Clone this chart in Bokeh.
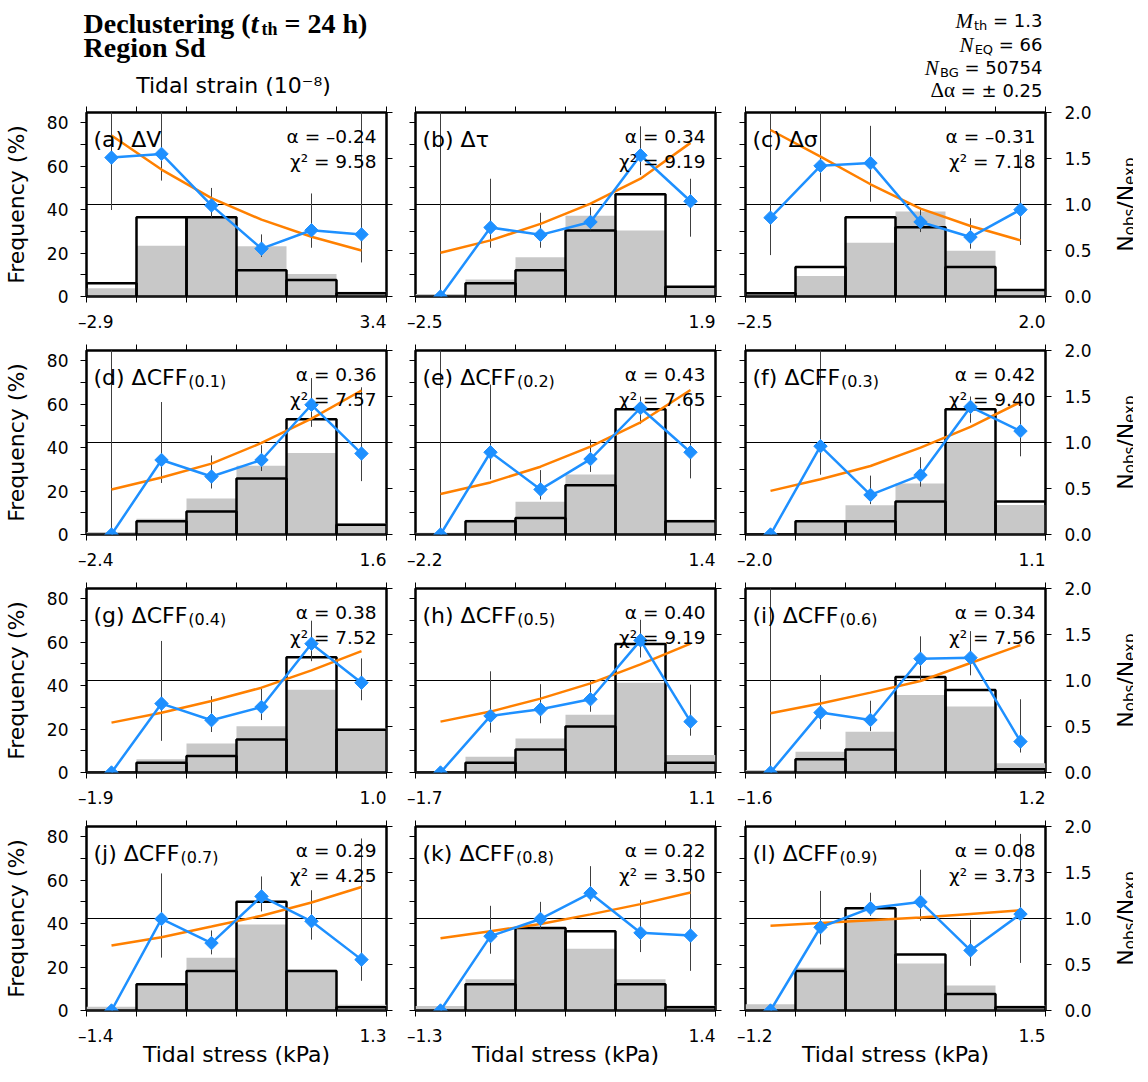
import numpy as np
from bokeh.plotting import figure
from bokeh.layouts import gridplot, column
from bokeh.models import (Range1d, LinearAxis, FixedTicker, Label,
                          PrintfTickFormatter, CustomJSTickFormatter)
from bokeh.core.properties import value
from bokeh.embed import file_html
from bokeh.resources import INLINE

# ---------------- data ----------------
panel_tags = ["a", "b", "c", "d", "e", "f", "g", "h", "i", "j", "k", "l"]
quantity_names = ["ΔV", "Δτ", "Δσ", "ΔCFF", "ΔCFF", "ΔCFF", "ΔCFF", "ΔCFF",
                  "ΔCFF", "ΔCFF", "ΔCFF", "ΔCFF"]
friction_subs = ["", "", "", "(0.1)", "(0.2)", "(0.3)", "(0.4)", "(0.5)",
                 "(0.6)", "(0.7)", "(0.8)", "(0.9)"]
alpha_values = [-0.24, 0.34, -0.31, 0.36, 0.43, 0.42, 0.38, 0.40, 0.34, 0.29, 0.22, 0.08]
chi2_values = [9.58, 9.19, 7.18, 7.57, 7.65, 9.40, 7.52, 9.19, 7.56, 4.25, 3.50, 3.73]
x_min = [-2.9, -2.5, -2.5, -2.4, -2.2, -2.0, -1.9, -1.7, -1.6, -1.4, -1.3, -1.2]
x_max = [3.4, 1.9, 2.0, 1.6, 1.4, 1.1, 1.0, 1.1, 1.2, 1.3, 1.4, 1.5]

# observed earthquake frequency (%) per bin
freq_obs = [
    [6.1, 36.4, 36.4, 12.1, 7.6, 1.5],
    [0.0, 6.1, 12.1, 30.3, 47.0, 4.5],
    [1.5, 13.6, 36.4, 31.8, 13.6, 3.0],
    [0.0, 6.1, 10.6, 25.8, 53.0, 4.5],
    [0.0, 6.1, 7.6, 22.7, 57.6, 6.1],
    [0.0, 6.1, 6.1, 15.2, 57.6, 15.2],
    [0.0, 4.5, 7.6, 15.2, 53.0, 19.7],
    [0.0, 4.5, 10.6, 21.2, 59.1, 4.5],
    [0.0, 6.1, 10.6, 43.9, 37.9, 1.5],
    [0.0, 12.1, 18.2, 50.0, 18.2, 1.5],
    [0.0, 12.1, 37.9, 36.4, 12.1, 1.5],
    [0.0, 18.2, 47.0, 25.8, 7.6, 1.5],
]
# background (expected) frequency (%) per bin
freq_bg = [
    [3.8, 23.3, 36.8, 23.1, 10.3, 2.2],
    [1.2, 7.8, 18.0, 37.1, 30.4, 4.4],
    [1.8, 9.4, 24.7, 39.1, 21.0, 3.2],
    [1.2, 7.2, 16.6, 31.6, 37.5, 5.1],
    [0.8, 6.8, 15.1, 27.6, 42.5, 6.8],
    [0.3, 6.3, 13.4, 23.5, 42.5, 13.6],
    [0.5, 6.1, 13.3, 21.3, 38.1, 20.2],
    [0.5, 7.2, 15.6, 26.5, 41.3, 8.1],
    [1.2, 9.5, 18.7, 35.6, 30.3, 4.3],
    [1.7, 12.2, 24.3, 39.5, 18.7, 2.7],
    [2.1, 14.4, 38.1, 28.4, 14.4, 2.3],
    [2.9, 19.7, 42.2, 21.6, 11.5, 2.3],
]
# Nobs/Nexp per bin
ratio_obs = [
    [1.51, 1.55, 0.99, 0.52, 0.72, 0.675],
    [0.0, 0.75, 0.67, 0.81, 1.535, 1.035],
    [0.857, 1.42, 1.45, 0.81, 0.646, 0.944],
    [0.0, 0.81, 0.63, 0.81, 1.41, 0.88],
    [0.0, 0.894, 0.49, 0.82, 1.375, 0.894],
    [0.0, 0.96, 0.43, 0.646, 1.387, 1.124],
    [0.0, 0.749, 0.568, 0.712, 1.40, 0.976],
    [0.0, 0.615, 0.687, 0.796, 1.436, 0.553],
    [0.0, 0.651, 0.571, 1.237, 1.248, 0.336],
    [0.0, 0.995, 0.733, 1.24, 0.97, 0.553],
    [0.0, 0.808, 0.995, 1.275, 0.844, 0.815],
    [0.0, 0.905, 1.113, 1.18, 0.653, 1.048],
]
ratio_lo = [
    [0.94, 1.26, 0.86, 0.43, 0.53, 0.37],
    [0.0, 0.53, 0.53, 0.72, 1.32, 0.65],
    [0.45, 1.03, 1.03, 0.70, 0.52, 0.56],
    [0.0, 0.56, 0.50, 0.69, 1.17, 0.58],
    [0.0, 0.60, 0.38, 0.68, 1.20, 0.61],
    [0.0, 0.65, 0.33, 0.52, 1.215, 0.85],
    [0.0, 0.344, 0.44, 0.57, 1.21, 0.785],
    [0.0, 0.434, 0.535, 0.66, 1.25, 0.40],
    [0.0, 0.47, 0.45, 1.005, 1.056, 0.217],
    [0.0, 0.575, 0.61, 1.077, 0.77, 0.323],
    [0.0, 0.617, 0.894, 1.185, 0.635, 0.431],
    [0.0, 0.718, 1.03, 0.975, 0.485, 0.517],
]
ratio_hi = [
    [2.5, 2.5, 1.18, 0.675, 1.12, 2.5],
    [2.5, 1.28, 0.91, 0.97, 1.85, 1.28],
    [2.5, 2.5, 1.855, 0.95, 0.85, 1.6],
    [2.5, 1.44, 0.86, 0.97, 1.70, 1.60],
    [2.5, 1.63, 0.70, 1.03, 1.50, 1.49],
    [0.0, 2.5, 0.64, 0.84, 1.50, 1.41],
    [0.0, 1.43, 0.83, 0.91, 1.65, 1.24],
    [0.0, 1.10, 0.96, 1.00, 1.66, 0.955],
    [2.5, 1.06, 0.78, 1.48, 1.537, 0.796],
    [0.0, 1.49, 0.87, 1.457, 1.307, 1.87],
    [0.0, 1.138, 1.181, 1.569, 1.203, 1.748],
    [0.0, 1.30, 1.28, 1.53, 0.987, 1.92],
]
# fitted exponential model (Nobs/Nexp) at the bin centres
ratio_fit = [
    [1.75, 1.38, 1.07, 0.835, 0.65, 0.50],
    [0.475, 0.61, 0.79, 1.01, 1.28, 1.67],
    [1.81, 1.52, 1.22, 0.955, 0.766, 0.61],
    [0.49, 0.62, 0.77, 0.995, 1.26, 1.565],
    [0.44, 0.566, 0.737, 0.956, 1.22, 1.57],
    [0.474, 0.60, 0.745, 0.944, 1.17, 1.44],
    [0.542, 0.65, 0.777, 0.922, 1.11, 1.32],
    [0.553, 0.662, 0.803, 0.969, 1.175, 1.40],
    [0.644, 0.749, 0.868, 0.995, 1.19, 1.385],
    [0.707, 0.797, 0.912, 1.03, 1.174, 1.343],
    [0.786, 0.862, 0.941, 1.045, 1.156, 1.282],
    [0.92, 0.95, 0.98, 1.01, 1.05, 1.09],
]
ratio_reference = 1.0
freq_ticks = [0, 20, 40, 60, 80]
freq_minor_ticks = [10, 30, 50, 70]
ratio_ticks = [0.0, 0.5, 1.0, 1.5, 2.0]
info_values = {"M_th": "1.3", "N_EQ": "66", "N_BG": "50754", "dalpha": "± 0.25"}

# ---------------- style ----------------
FREQ_TOP = 84.6
RATIO_TOP = 2.0
BLUE = "#1e90ff"
ORANGE = "#ff8000"
GRAY = "#c8c8c8"
SANS = "DejaVu Sans"
SERIF = "Liberation Serif"
FW, FH = 300, 184                 # frame size of every panel
COL_L = [83, 14, 15]              # left borders per column
COL_R = [15, 15, 52]              # right borders per column
NW = 36                           # width of the Nobs/Nexp title column
HEAD_H = 100                      # height of the header strip

DV = {' ': .318, '(': .390, ')': .390, '.': .318, '/': .337, '=': .838, '–': .5,
      '±': .838, '%': .950, 'Δ': .684, 'α': .659, 'τ': .568, 'σ': .634, 'χ': .592,
      '²': .401, 'A': .684, 'B': .686, 'C': .698, 'D': .770, 'E': .632, 'F': .575,
      'G': .775, 'N': .748, 'Q': .787, 'V': .684, 'a': .613, 'b': .635, 'c': .550,
      'd': .635, 'e': .615, 'f': .352, 'g': .635, 'h': .634, 'i': .278, 'j': .278,
      'k': .579, 'l': .278, 'o': .612, 'p': .635, 's': .521, 't': .392, 'x': .592,
      'T': .611, 'r': .411, 'n': .634, '⁻': .5, '⁸': .401}
for _d in "0123456789":
    DV[_d] = .636
TB = {' ': .25, '(': .333, ')': .333, '=': .570, 'D': .722, 'e': .444, 'c': .444,
      'l': .278, 'u': .556, 's': .389, 't': .333, 'r': .444, 'i': .278, 'n': .556,
      'g': .5, 'h': .556, '2': .5, '4': .5}


def tw(s, size, table):
    return sum(table.get(ch, 0.6) for ch in s) * size


def signed(v, nd):
    s = f"{abs(v):.{nd}f}"
    return ("–" + s) if v < 0 else s


def label(p, text, x, y, xo, yo, size, align="left"):
    p.add_layout(Label(x=x, y=y, x_offset=xo, y_offset=yo, text=text,
                       text_font=SANS, text_font_size=f"{size}px",
                       text_align=align, text_baseline="alphabetic",
                       text_color="black"))


def put_text(p, x, y, text, size, font=SANS, style="normal", align="left", angle=0.0):
    p.text(x=[x], y=[y], text=[text], text_font=value(font),
           text_font_size=value(f"{size}px"), text_font_style=value(style),
           text_align=value(align), text_baseline=value("alphabetic"),
           angle=angle, text_color="black")


def style_axis(ax, show, tick=6):
    ax.axis_line_color = None
    ax.major_tick_in = 0
    ax.major_tick_out = tick
    ax.minor_tick_in = 0
    ax.minor_tick_out = tick
    ax.major_tick_line_color = "black"
    ax.minor_tick_line_color = "black"
    ax.major_tick_line_width = 1
    ax.minor_tick_line_width = 1
    ax.axis_label_text_font = SANS
    ax.axis_label_text_font_style = "normal"
    ax.axis_label_text_font_size = "22px"
    ax.axis_label_text_color = "black"
    ax.major_label_text_font = SANS
    ax.major_label_text_color = "black"
    if show:
        ax.major_label_text_font_size = "17px"
        ax.major_label_standoff = 12
    else:
        ax.formatter = CustomJSTickFormatter(code="return ''")
        ax.major_label_text_font_size = "0px"
        ax.major_label_standoff = 0


def borders(r):
    top = 12
    bottom = 63 if r == 3 else 42
    return top, bottom


def make_panel(i):
    r, c = divmod(i, 3)
    xmin, xmax = x_min[i], x_max[i]
    edges = np.linspace(xmin, xmax, 7)
    centers = 0.5 * (edges[:-1] + edges[1:])
    bw = edges[1] - edges[0]
    bt, bb = borders(r)

    p = figure(frame_width=FW, frame_height=FH,
               x_range=Range1d(xmin, xmax), y_range=Range1d(0, FREQ_TOP),
               output_backend="svg", toolbar_location=None, title=None,
               min_border_left=COL_L[c], min_border_right=COL_R[c],
               min_border_top=bt, min_border_bottom=bb,
               background_fill_color="white", border_fill_color="white",
               outline_line_color="black", outline_line_width=2.5)
    p.extra_y_ranges = {"ratio": Range1d(0, RATIO_TOP)}
    p.xgrid.visible = False
    p.ygrid.visible = False

    # left axis: frequency
    ly = p.yaxis[0]
    ly.ticker = FixedTicker(ticks=freq_ticks, minor_ticks=freq_minor_ticks)
    style_axis(ly, c == 0)
    if c == 0:
        ly.axis_label = "Frequency (%)"
        ly.axis_label_standoff = 15

    # right axis: Nobs/Nexp
    ry = LinearAxis(y_range_name="ratio", ticker=FixedTicker(ticks=ratio_ticks))
    style_axis(ry, c == 2)
    if c == 2:
        ry.formatter = PrintfTickFormatter(format="%.1f")
        ry.major_label_standoff = 13
    p.add_layout(ry, "right")

    # bottom axis: ticks at the bin edges
    bx = p.xaxis[0]
    bx.ticker = FixedTicker(ticks=list(edges))
    style_axis(bx, False)

    # second bottom axis: only the two end annotations
    s_l, s_r = signed(xmin, 1), signed(xmax, 1)
    ppu = FW / (xmax - xmin)
    pos_l = xmin + (tw(s_l, 17, DV) / 2 - tw("–", 17, DV)) / ppu
    pos_r = xmax - (tw(s_r, 17, DV) / 2) / ppu
    ex = LinearAxis(ticker=FixedTicker(ticks=[pos_l, pos_r]),
                    formatter=CustomJSTickFormatter(args=dict(lo=s_l, hi=s_r),
                                                    code="return index == 0 ? lo : hi;"))
    style_axis(ex, True, tick=0)
    ex.major_label_standoff = 9
    if r == 3:
        ex.axis_label = "Tidal stress (kPa)"
        ex.axis_label_standoff = -7
    p.add_layout(ex, "below")

    # top axis
    tx = LinearAxis(ticker=FixedTicker(ticks=list(edges)))
    style_axis(tx, False)
    p.add_layout(tx, "above")

    # histograms
    p.vbar(x=centers, top=freq_bg[i], width=bw, bottom=0,
           fill_color=GRAY, line_color=None)
    p.vbar(x=centers, top=freq_obs[i], width=bw, bottom=0,
           fill_color=None, line_color="black", line_width=2.5)
    # reference level Nobs/Nexp = 1
    p.segment(x0=[xmin], x1=[xmax], y0=[ratio_reference], y1=[ratio_reference],
              y_range_name="ratio", line_color="black", line_width=1)
    # error bars
    p.segment(x0=centers, x1=centers, y0=ratio_lo[i], y1=ratio_hi[i],
              y_range_name="ratio", line_color="#404040", line_width=1)
    # fitted model and observed ratio
    p.line(centers, ratio_fit[i], y_range_name="ratio", line_color=ORANGE, line_width=2.5)
    p.line(centers, ratio_obs[i], y_range_name="ratio", line_color=BLUE, line_width=2.5)
    p.scatter(centers, ratio_obs[i], y_range_name="ratio", marker="square",
              angle=np.pi / 4, size=9.5, fill_color=BLUE, line_color=BLUE)

    # panel texts
    main = f"({panel_tags[i]}) {quantity_names[i]}"
    label(p, main, xmin, FREQ_TOP, 7, -27, 22)
    if friction_subs[i]:
        label(p, friction_subs[i], xmin, FREQ_TOP, 8 + tw(main, 22, DV), -31, 16)
    label(p, f"α = {signed(alpha_values[i], 2)}", xmax, FREQ_TOP, -10, -24, 18.5, align="right")
    label(p, f"χ² = {chi2_values[i]:.2f}", xmax, FREQ_TOP, -10, -49, 18.5, align="right")
    return p


def make_ratio_title(r):
    bt, bb = borders(r)
    p = figure(frame_width=NW, frame_height=FH, x_range=Range1d(0, NW),
               y_range=Range1d(0, FH), output_backend="svg", toolbar_location=None,
               title=None, x_axis_location=None, y_axis_location=None,
               min_border_left=0, min_border_right=0, min_border_top=bt,
               min_border_bottom=bb, outline_line_color=None,
               background_fill_color="white", border_fill_color="white")
    p.grid.visible = False
    parts = [("N", 22, 0), ("obs", 15, 4), ("/N", 22, 0), ("exp", 15, 4)]
    total = sum(tw(s, sz, DV) for s, sz, _ in parts)
    pos = FH / 2 - total / 2
    for s, sz, sh in parts:
        put_text(p, 28 + sh, pos, s, sz, angle=np.pi / 2)
        pos += tw(s, sz, DV)
    return p


def make_header():
    width = sum(COL_L) + sum(COL_R) + 3 * FW + NW
    p = figure(frame_width=width, frame_height=HEAD_H, x_range=Range1d(0, width),
               y_range=Range1d(HEAD_H, 0), output_backend="svg", toolbar_location=None,
               title=None, x_axis_location=None, y_axis_location=None,
               min_border=0, outline_line_color=None,
               background_fill_color="white", border_fill_color="white")
    p.grid.visible = False
    x0 = COL_L[0]
    # title (leading blanks are written as explicit gaps)
    tsz = 28
    pieces = [("Declustering (", tsz, "bold", 0, 0.0), ("t", tsz, "bold italic", 0, 0.0),
              ("th", 18, "bold", 5, 0.0), ("= 24 h)", tsz, "bold", 0, 0.25 * tsz)]
    xo = x0
    for s, sz, st, sh, gap in pieces:
        xo += gap
        put_text(p, xo, 23 + sh, s, sz, font=SERIF, style=st)
        xo += tw(s, sz, TB) + (1.5 if s == "t" else 0.0)
    put_text(p, x0, 47, "Region Sd", tsz, font=SERIF, style="bold")
    # axis title above the first column
    put_text(p, x0 + FW / 2, 85, "Tidal strain (10⁻⁸)", 22, align="center")
    # catalogue information, right aligned at the third frame's right edge
    xr = COL_L[0] + FW + COL_R[0] + COL_L[1] + FW + COL_R[1] + COL_L[2] + FW
    gap = tw(" ", 18, DV)
    rows = [("M", "th", "= " + info_values["M_th"], 20),
            ("N", "EQ", "= " + info_values["N_EQ"], 44),
            ("N", "BG", "= " + info_values["N_BG"], 67)]
    for big, sub, rest, yb in rows:
        w_rest = tw(rest, 18, DV) + gap
        w_sub = tw(sub, 13, DV)
        put_text(p, xr, yb, rest, 18, align="right")
        put_text(p, xr - w_rest, yb + 5, sub, 13, align="right")
        put_text(p, xr - w_rest - w_sub - 1, yb, big, 21, font=SERIF,
                 style="italic", align="right")
    rest = "= " + info_values["dalpha"]
    w_rest = tw(rest, 18, DV) + gap
    put_text(p, xr, 89.5, rest, 18, align="right")
    put_text(p, xr - w_rest, 89.5, "Δα", 21, font=SERIF, align="right")
    return p


panels = [make_panel(i) for i in range(12)]
rows = []
for r in range(4):
    rows.append(panels[3 * r:3 * r + 3] + [make_ratio_title(r)])
grid = gridplot(rows, toolbar_location=None)
page = column(make_header(), grid)

open("out.html", "w").write(file_html(page, INLINE))
